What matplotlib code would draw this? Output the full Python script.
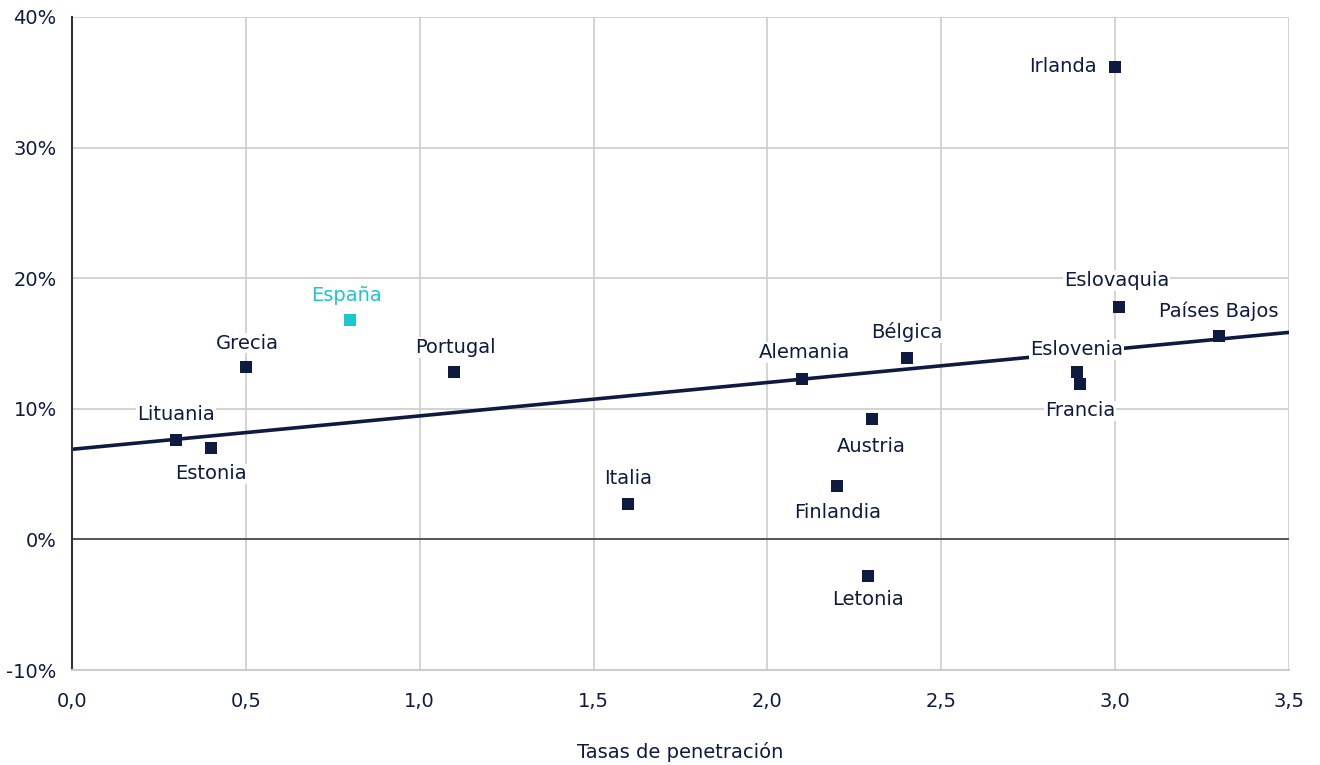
import matplotlib
matplotlib.use("Agg")
import matplotlib.pyplot as plt
from matplotlib.ticker import FuncFormatter, MultipleLocator

# ---- data ----
countries = ["Lituania", "Estonia", "Grecia", "España", "Portugal", "Italia",
             "Alemania", "Finlandia", "Austria", "Letonia", "Bélgica",
             "Eslovenia", "Francia", "Irlanda", "Eslovaquia", "Países Bajos"]
penetration = [0.30, 0.40, 0.50, 0.80, 1.10, 1.60,
               2.10, 2.20, 2.30, 2.29, 2.40,
               2.89, 2.90, 3.00, 3.01, 3.30]
growth = [0.076, 0.070, 0.132, 0.168, 0.128, 0.027,
          0.123, 0.041, 0.092, -0.028, 0.139,
          0.128, 0.119, 0.362, 0.178, 0.156]
trend_x = [0.0, 3.5]
trend_y = [0.069, 0.1585]
highlight = "España"
xlabel = "Tasas de penetración"

# ---- label placement (pixels offset) ----
label_pos = {
    "Lituania": (0, 26, "center"), "Estonia": (0, -26, "center"),
    "Grecia": (2, 24, "center"), "España": (-4, 24, "center"),
    "Portugal": (1, 25, "center"), "Italia": (0, 26, "center"),
    "Alemania": (2, 26, "center"), "Finlandia": (1, -27, "center"),
    "Austria": (0, -27, "center"), "Letonia": (0, -24, "center"),
    "Bélgica": (0, 26, "center"), "Eslovenia": (0, 23, "center"),
    "Francia": (0, -27, "center"), "Irlanda": (-18, 0, "right"),
    "Eslovaquia": (-2, 26, "center"), "Países Bajos": (-1, 24, "center"),
}

navy = "#0f1a40"
cyan = "#1ac6d0"

plt.rcParams["font.family"] = ["DejaVu Sans"]
fig = plt.figure(figsize=(13.2, 7.65), dpi=100)
ax = fig.add_axes([72/1320, 1-670/765, (1289-72)/1320, (670-17)/765])

ax.set_xlim(0, 3.5)
ax.set_ylim(-0.10, 0.40)
ax.xaxis.set_major_locator(MultipleLocator(0.5))
ax.yaxis.set_major_locator(MultipleLocator(0.10))
ax.xaxis.set_major_formatter(FuncFormatter(lambda v, p: f"{v:.1f}".replace(".", ",")))
ax.yaxis.set_major_formatter(FuncFormatter(lambda v, p: f"{v*100:.0f}%"))
ax.grid(True, color="#cccccc", linewidth=1.2, zorder=0)
ax.set_axisbelow(True)
ax.tick_params(length=0, labelsize=14, colors=navy)
ax.tick_params(axis="x", pad=16)
ax.tick_params(axis="y", pad=11)
for s in ["top", "right"]:
    ax.spines[s].set_visible(False)
ax.spines["left"].set_color("#333333")
ax.spines["left"].set_linewidth(1.5)
ax.spines["bottom"].set_color("#cccccc")
ax.spines["bottom"].set_linewidth(1.5)
ax.axhline(0, color="#404040", linewidth=1.2, zorder=1)

ax.plot(trend_x, trend_y, color=navy, linewidth=2.6, zorder=2)

for name, x, y in zip(countries, penetration, growth):
    col = cyan if name == highlight else navy
    ax.scatter([x], [y], marker="s", s=72, color=col, zorder=4, linewidths=0)
    dx, dy, ha = label_pos[name]
    ax.annotate(name, (x, y), xytext=(dx, dy), textcoords="offset pixels",
                ha=ha, va="center", fontsize=14, color=col, zorder=3,
                bbox=dict(boxstyle="square,pad=0.05", fc="white", ec="none"))

fig.text(680/1320, 1-752/765, xlabel, fontsize=14, color=navy,
         ha="center", va="center")

fig.savefig("out.png", dpi=100)
